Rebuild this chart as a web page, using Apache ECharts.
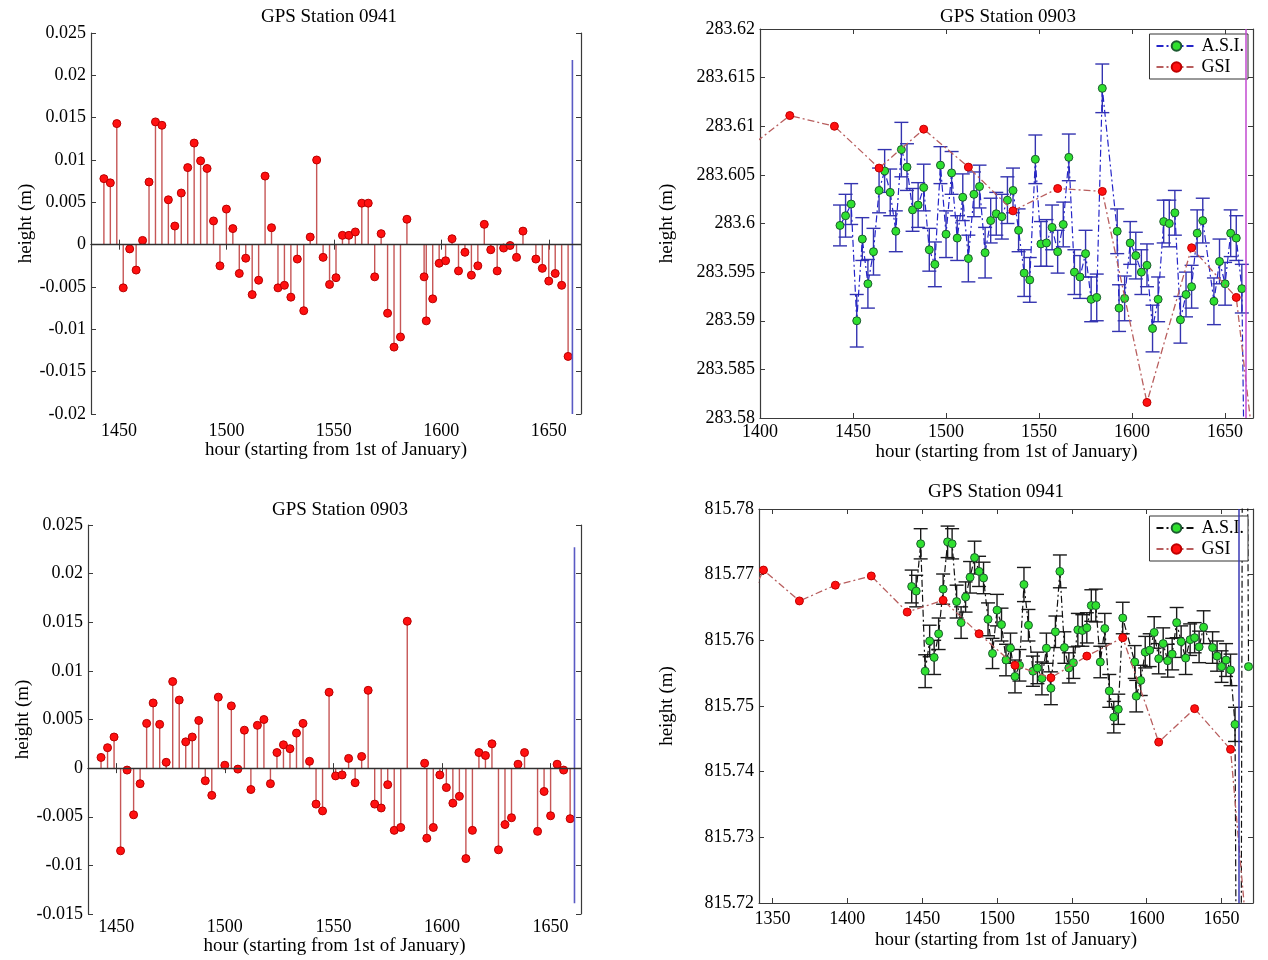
<!DOCTYPE html>
<html>
<head>
<meta charset="utf-8">
<title>GPS Station heights</title>
<script src="https://cdn.jsdelivr.net/npm/echarts@6/dist/echarts.min.js"></script>
<style>
    html, body { margin: 0; padding: 0; background: #fff; }
    #chart { width: 1268px; height: 960px; }
</style>
</head>
<body>
<div id="chart"></div>
<script>
// hours of the A.S.I. solutions (same epochs for both stations)
const obsHours = [1443, 1446, 1449, 1452, 1455, 1458, 1461, 1464, 1467, 1470,
    1473, 1476, 1479, 1482, 1485, 1488, 1491, 1494, 1497, 1500,
    1503, 1506, 1509, 1512, 1515, 1518, 1521, 1524, 1527, 1530,
    1533, 1536, 1539, 1542, 1545, 1548, 1551, 1554, 1557, 1560,
    1563, 1566, 1569, 1572, 1575, 1578, 1581, 1584, 1592, 1593,
    1596, 1599, 1602, 1605, 1608, 1611, 1614, 1617, 1620, 1623,
    1626, 1629, 1632, 1635, 1638, 1644, 1647, 1650, 1653, 1656, 1659];

// residuals (m)
const res0941 = [0.0078, 0.0073, 0.0143, -0.0051, -0.0005, -0.0030, 0.0005, 0.0074, 0.0145, 0.0141,
    0.0053, 0.0022, 0.0061, 0.0091, 0.0120, 0.0099, 0.0090, 0.0028, -0.0025, 0.0042,
    0.0019, -0.0034, -0.0016, -0.0059, -0.0042, 0.0081, 0.0020, -0.0051, -0.0048, -0.0062,
    -0.0017, -0.0078, 0.0009, 0.0100, -0.0015, -0.0047, -0.0039, 0.0011, 0.0011, 0.0015,
    0.0049, 0.0049, -0.0038, 0.0013, -0.0081, -0.0121, -0.0109, 0.0030, -0.0038, -0.0090,
    -0.0064, -0.0022, -0.0019, 0.0007, -0.0031, -0.0009, -0.0036, -0.0025, 0.0024, -0.0006,
    -0.0031, -0.0004, -0.0001, -0.0015, 0.0016, -0.0017, -0.0028, -0.0043, -0.0034, -0.0048, -0.0132];
const res0903 = [0.0011, 0.0021, 0.0032, -0.0085, -0.0002, -0.0048, -0.0016, 0.0046, 0.0067, 0.0045,
    0.0006, 0.0089, 0.0070, 0.0027, 0.0032, 0.0049, -0.0013, -0.0028, 0.0073, 0.0003,
    0.0064, -0.0001, 0.0039, -0.0022, 0.0044, 0.0050, -0.0016, 0.0016, 0.0024, 0.0020,
    0.0036, 0.0046, 0.0007, -0.0037, -0.0044, 0.0078, -0.0008, -0.0007, 0.0010, -0.0015,
    0.0012, 0.0080, -0.0037, -0.0041, -0.0017, -0.0064, -0.0061, 0.0151, 0.0005, -0.0072,
    -0.0061, -0.0007, -0.0020, -0.0036, -0.0029, -0.0093, -0.0064, 0.0016, 0.0013, 0.0025,
    -0.0084, -0.0058, -0.0051, 0.0004, 0.0016, -0.0065, -0.0024, -0.0049, 0.0004, -0.0002, -0.0052];

// end-of-series marker lines in the residual plots
const refHour = [1661, 1661];
const ref0941 = [0.0218, -0.02];
const ref0903 = [0.0227, -0.0139];
// vertical marker in the height plots: [0903, 0941]
const cutHours = [1661, 1661.5];

// station 0903 heights (m)
const asi0903 = [283.5998, 283.6008, 283.6020, 283.5900, 283.5984, 283.5938, 283.5971, 283.6034, 283.6054, 283.6032,
    283.5992, 283.6076, 283.6058, 283.6014, 283.6019, 283.6037, 283.5973, 283.5958, 283.6060, 283.5989,
    283.6052, 283.5985, 283.6027, 283.5964, 283.6030, 283.6038, 283.5970, 283.6003, 283.6010, 283.6007,
    283.6024, 283.6034, 283.5993, 283.5949, 283.5942, 283.6066, 283.5979, 283.5980, 283.5996, 283.5971,
    283.5999, 283.6068, 283.5950, 283.5945, 283.5969, 283.5922, 283.5924, 283.6139, 283.5992, 283.5913,
    283.5923, 283.5980, 283.5967, 283.5950, 283.5957, 283.5892, 283.5922, 283.6002, 283.6000, 283.6011,
    283.5901, 283.5927, 283.5935, 283.5990, 283.6003, 283.5920, 283.5961, 283.5938, 283.5990, 283.5985, 283.5933];
const asi0903Err = [0.0021, 0.0022, 0.0021, 0.0027, 0.0022, 0.0025, 0.0024, 0.0023, 0.0022, 0.0024,
    0.0021, 0.0028, 0.0024, 0.0022, 0.0023, 0.0024, 0.0022, 0.0023, 0.0019, 0.0024,
    0.0022, 0.0023, 0.0024, 0.0024, 0.0023, 0.0022, 0.0026, 0.0023, 0.0022, 0.0023,
    0.0024, 0.0023, 0.0022, 0.0024, 0.0023, 0.0025, 0.0023, 0.0024, 0.0023, 0.0022,
    0.0023, 0.0024, 0.0023, 0.0022, 0.0024, 0.0023, 0.0024, 0.0025, 0.0023, 0.0024,
    0.0023, 0.0022, 0.0024, 0.0023, 0.0022, 0.0024, 0.0023, 0.0022, 0.0024, 0.0023,
    0.0024, 0.0023, 0.0022, 0.0024, 0.0023, 0.0024, 0.0023, 0.0022, 0.0024, 0.0023, 0.0025];
const asi0903TailHours = [1662];
const asi0903Tail = [283.55];
const gsi0903Hours = [1392, 1416, 1440, 1464, 1488, 1512, 1536, 1560, 1584, 1608, 1632, 1656, 1680];
const gsi0903 = [283.6075, 283.6111, 283.6100, 283.6057, 283.6097, 283.6058, 283.6013,
    283.6036, 283.6033, 283.5816, 283.5975, 283.5924, 283.5527];

// station 0941 heights (m)
const asi0941 = [815.7682, 815.7675, 815.7747, 815.7553, 815.7599, 815.7574, 815.7610, 815.7678, 815.7750, 815.7747,
    815.7659, 815.7627, 815.7666, 815.7696, 815.7726, 815.7705, 815.7695, 815.7632, 815.7580, 815.7646,
    815.7624, 815.7570, 815.7588, 815.7545, 815.7562, 815.7685, 815.7623, 815.7553, 815.7558, 815.7542,
    815.7588, 815.7527, 815.7613, 815.7705, 815.7589, 815.7558, 815.7566, 815.7616, 815.7615, 815.7619,
    815.7653, 815.7653, 815.7567, 815.7618, 815.7523, 815.7483, 815.7495, 815.7634, 815.7567, 815.7515,
    815.7539, 815.7582, 815.7585, 815.7612, 815.7572, 815.7595, 815.7569, 815.7579, 815.7627, 815.7598,
    815.7573, 815.7601, 815.7604, 815.7590, 815.7620, 815.7589, 815.7576, 815.7560, 815.7570, 815.7555, 815.7472];
const asi0941Err = [0.0025, 0.0024, 0.0023, 0.0025, 0.0024, 0.0026, 0.0024, 0.0023, 0.0024, 0.0023,
    0.0025, 0.0024, 0.0023, 0.0024, 0.0025, 0.0023, 0.0024, 0.0025, 0.0023, 0.0024,
    0.0025, 0.0024, 0.0023, 0.0025, 0.0024, 0.0026, 0.0024, 0.0023, 0.0024, 0.0025,
    0.0023, 0.0025, 0.0024, 0.0025, 0.0024, 0.0023, 0.0024, 0.0025, 0.0024, 0.0023,
    0.0024, 0.0025, 0.0024, 0.0023, 0.0025, 0.0024, 0.0023, 0.0024, 0.0025, 0.0024,
    0.0023, 0.0024, 0.0025, 0.0024, 0.0023, 0.0024, 0.0025, 0.0024, 0.0023, 0.0024,
    0.0025, 0.0024, 0.0023, 0.0024, 0.0025, 0.0024, 0.0023, 0.0024, 0.0025, 0.0024, 0.0026];
const asi0941TailHours = [1662, 1665, 1668];
const asi0941Tail = [815.60, 815.90, 815.756];
const gsi0941Hours = [1320, 1344, 1368, 1392, 1416, 1440, 1464, 1488, 1512, 1536, 1560, 1584, 1608, 1632, 1656, 1680];
const gsi0941 = [815.7590, 815.7707, 815.7660, 815.7684, 815.7698, 815.7643, 815.7661, 815.7610,
    815.7562, 815.7543, 815.7576, 815.7604, 815.7445, 815.7496, 815.7434, 815.6810];

const FONT = '"Liberation Serif", "Times New Roman", serif';
const DASH_DOT = [7, 3, 2, 3];
const FRAME = '#3a3a3a';

const zip = (xs, ys) => xs.map((x, i) => [x, ys[i]]);

// layout of the four panels: TL, TR, BL, BR
const panels = [
    { grid: { left: 91, top: 33, width: 490, height: 381 }, x: [1437, 1665], y: [-0.02, 0.025], step: 0.005, dec: 3,
      title: 'GPS Station 0941', tx: 329, ty: 8, xGap: 27, xMargin: 8, yGap: 54, minLabel: false },
    { grid: { left: 760, top: 29, width: 493, height: 389 }, x: [1400, 1665], y: [283.58, 283.62], step: 0.005, dec: 3,
      title: 'GPS Station 0903', tx: 1008, ty: 8, xGap: 25, xMargin: 5, yGap: 83, minLabel: true },
    { grid: { left: 88, top: 525, width: 493, height: 389 }, x: [1437, 1664], y: [-0.015, 0.025], step: 0.005, dec: 3,
      title: 'GPS Station 0903', tx: 340, ty: 501, xGap: 22, xMargin: 4, yGap: 51, minLabel: false },
    { grid: { left: 759, top: 509, width: 494, height: 394 }, x: [1341, 1671], y: [815.72, 815.78], step: 0.01, dec: 2,
      title: 'GPS Station 0941', tx: 996, ty: 483, xGap: 28, xMargin: 7, yGap: 82, minLabel: false }
];

const labelText = { color: '#000', fontFamily: FONT, fontSize: 18 };
const nameText = { color: '#000', fontFamily: FONT, fontSize: 19 };
const xAxes = [], yAxes = [];
panels.forEach((p, i) => {
    xAxes.push({
        type: 'value', gridIndex: i, min: p.x[0], max: p.x[1],
        name: 'hour (starting from 1st of January)', nameLocation: 'middle', nameGap: p.xGap,
        nameTextStyle: nameText,
        axisLine: { lineStyle: { color: FRAME, width: 1.2 } },
        axisTick: { inside: true, length: 5, lineStyle: { color: FRAME } },
        axisLabel: Object.assign({ margin: p.xMargin, showMinLabel: p.minLabel, showMaxLabel: false,
            formatter: v => String(Math.round(v)) }, labelText),
        splitLine: { show: false }
    });
    yAxes.push({
        type: 'value', gridIndex: i, min: p.y[0], max: p.y[1], interval: p.step,
        name: 'height (m)', nameLocation: 'middle', nameGap: p.yGap,
        nameTextStyle: nameText,
        axisLine: { lineStyle: { color: FRAME, width: 1.2 } },
        axisTick: { inside: true, length: 5, lineStyle: { color: FRAME } },
        axisLabel: Object.assign({ margin: 5, formatter: v => String(parseFloat(v.toFixed(p.dec))) }, labelText),
        splitLine: { show: false }
    });
});
// mirrored frame axes on top and right
panels.forEach((p, i) => {
    xAxes.push({
        type: 'value', gridIndex: i, position: 'top', min: p.x[0], max: p.x[1],
        axisLine: { lineStyle: { color: FRAME, width: 1.2 } },
        axisTick: { inside: true, length: 5, lineStyle: { color: FRAME } },
        axisLabel: { show: false }, splitLine: { show: false }
    });
    yAxes.push({
        type: 'value', gridIndex: i, position: 'right', min: p.y[0], max: p.y[1], interval: p.step,
        axisLine: { lineStyle: { color: FRAME, width: 1.2 } },
        axisTick: { inside: true, length: 5, lineStyle: { color: FRAME } },
        axisLabel: { show: false }, splitLine: { show: false }
    });
});

function stemRender(params, api) {
    const x = api.value(0);
    const p0 = api.coord([x, 0]);
    const p1 = api.coord([x, api.value(1)]);
    return {
        type: 'line',
        shape: { x1: p0[0], y1: p0[1], x2: p1[0], y2: p1[1] },
        style: { stroke: '#c65656', lineWidth: 1.4 }
    };
}

function errorBarRender(color) {
    return function (params, api) {
        const x = api.value(0), v = api.value(1), e = api.value(2);
        const hi = api.coord([x, v + e]);
        const lo = api.coord([x, v - e]);
        const w = 7;
        const st = () => ({ stroke: color, lineWidth: 1.4 });
        return {
            type: 'group',
            children: [
                { type: 'line', shape: { x1: hi[0], y1: hi[1], x2: lo[0], y2: lo[1] }, style: st() },
                { type: 'line', shape: { x1: hi[0] - w, y1: hi[1], x2: hi[0] + w, y2: hi[1] }, style: st() },
                { type: 'line', shape: { x1: lo[0] - w, y1: lo[1], x2: lo[0] + w, y2: lo[1] }, style: st() }
            ]
        };
    };
}

function stemSeries(idx, vals, refVals) {
    return [
        { type: 'custom', name: 'stem' + idx, xAxisIndex: idx, yAxisIndex: idx, z: 2,
          renderItem: stemRender, encode: { x: 0, y: 1 }, data: zip(obsHours, vals), silent: true },
        { type: 'scatter', name: 'res' + idx, xAxisIndex: idx, yAxisIndex: idx, z: 3,
          symbol: 'circle', symbolSize: 8, data: zip(obsHours, vals),
          itemStyle: { color: '#ff1010', borderColor: '#b80000', borderWidth: 1, opacity: 1 },
          markLine: { silent: true, symbol: ['none', 'none'], label: { show: false },
              lineStyle: { color: '#303030', width: 1.3, type: 'solid' }, data: [{ yAxis: 0 }] } },
        { type: 'line', name: 'ref' + idx, xAxisIndex: idx, yAxisIndex: idx, z: 4,
          data: zip(refHour, refVals), symbol: 'none', silent: true,
          lineStyle: { color: '#5a5ac4', width: 1.6 } }
    ];
}

function heightSeries(idx, asiVals, errVals, tailHours, tailVals, gsiHours, gsiVals, asiColor, barColor, cutHour, cutColor) {
    return [
        { type: 'custom', name: 'err' + idx, xAxisIndex: idx, yAxisIndex: idx, z: 2, clip: true,
          renderItem: errorBarRender(barColor), encode: { x: 0, y: 1 }, silent: true,
          data: obsHours.map((h, i) => [h, asiVals[i], errVals[i]]) },
        { type: 'line', name: 'A.S.I.', xAxisIndex: idx, yAxisIndex: idx, z: 3,
          data: zip(obsHours.concat(tailHours), asiVals.concat(tailVals)),
          symbol: 'circle', symbolSize: 8,
          lineStyle: { color: asiColor, width: 1.2, type: DASH_DOT },
          itemStyle: { color: '#2fe02f', borderColor: '#1c5a30', borderWidth: 1 } },
        { type: 'line', name: 'GSI', xAxisIndex: idx, yAxisIndex: idx, z: 4,
          data: zip(gsiHours, gsiVals), symbol: 'circle', symbolSize: 8,
          lineStyle: { color: '#b85e5e', width: 1.3, type: DASH_DOT },
          itemStyle: { color: '#ff1010', borderColor: '#c00000', borderWidth: 1 },
          markLine: { silent: true, symbol: ['none', 'none'], label: { show: false },
              lineStyle: { color: cutColor, width: 1.5, type: 'solid' }, data: [{ xAxis: cutHour }] } }
    ];
}

const legendBase = {
    orient: 'vertical', right: 20, selectedMode: false,
    backgroundColor: '#fff', borderColor: '#333', borderWidth: 1, borderRadius: 0,
    padding: [3, 4, 3, 6], itemGap: 3, itemWidth: 40, itemHeight: 12,
    textStyle: { color: '#000', fontFamily: FONT, fontSize: 18 }
};

const option = {
    animation: false,
    backgroundColor: '#fff',
    title: panels.map(p => ({
        text: p.title, left: p.tx, top: p.ty, textAlign: 'center', padding: 0,
        textStyle: { color: '#000', fontFamily: FONT, fontSize: 19, fontWeight: 'normal' }
    })),
    legend: [
        Object.assign({ top: 34, data: ['A.S.I.', 'GSI'] }, legendBase),
        Object.assign({ top: 516, data: [{ name: 'A.S.I.', lineStyle: { color: '#111' } }, 'GSI'] }, legendBase)
    ],
    grid: panels.map(p => p.grid),
    xAxis: xAxes,
    yAxis: yAxes,
    series: [].concat(
        stemSeries(0, res0941, ref0941),
        heightSeries(1, asi0903, asi0903Err, asi0903TailHours, asi0903Tail, gsi0903Hours, gsi0903,
            '#2424c8', '#3434b0', cutHours[0], '#c24ad0'),
        stemSeries(2, res0903, ref0903),
        heightSeries(3, asi0941, asi0941Err, asi0941TailHours, asi0941Tail, gsi0941Hours, gsi0941,
            '#111111', '#1a1a1a', cutHours[1], '#3a3ab4')
    )
};

const chart = echarts.init(document.getElementById('chart'));
chart.setOption(option);
window.addEventListener('resize', function () {
    chart.resize();
});
</script>
</body>
</html>
